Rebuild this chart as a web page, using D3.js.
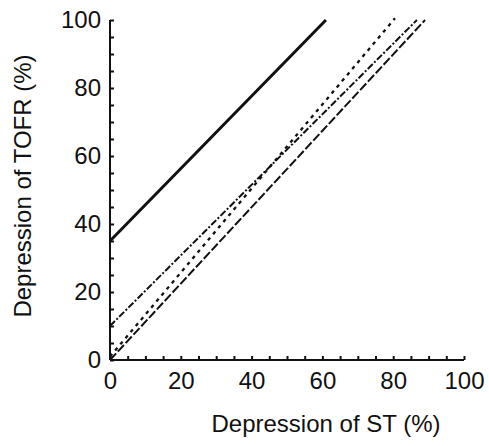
<!DOCTYPE html>
<html lang="en">
<head>
    <meta charset="UTF-8">
    <title>TOFR vs ST</title>
    <script src="https://cdn.jsdelivr.net/npm/d3@7"></script>
    <style>
        body { margin: 0; background: #fff; }
        #chart text { font-family: "Liberation Sans", Arial, sans-serif; fill: #111; }
        .axis path, .axis line { stroke: #111; stroke-width: 2px; }
        .axis text { font-size: 24px; }
        .series { fill: none; stroke: #111; }
    </style>
</head>
<body>
<div id="chart"></div>
<script>
    // line end points (ST %, TOFR %)
    let solidX = [0, 61];
    let solidY = [35, 100];
    let dotX = [0, 80.5];
    let dotY = [1, 100.5];
    let dashDotX = [0, 86.7];
    let dashDotY = [10, 100];
    let longDashX = [0, 89];
    let longDashY = [0, 100];

    let xTicks = [0, 5, 10, 15, 20, 25, 30, 35, 40, 45, 50, 55, 60, 65, 70, 75, 80, 85, 90, 95, 100];
    let yTicks = [0, 5, 10, 15, 20, 25, 30, 35, 40, 45, 50, 55, 60, 65, 70, 75, 80, 85, 90, 95, 100];
    let labelTicks = [0, 20, 40, 60, 80, 100];

    let draw = () => {
        let svg = d3.select("#chart").append("svg")
            .attr("width", 489)
            .attr("height", 446);

        // plot box
        let padding = { top: 20, left: 110, bottom: 86, right: 25 };
        let width = 489 - padding.left - padding.right;
        let height = 446 - padding.top - padding.bottom;

        let focus = svg.append("g")
            .attr("transform", "translate(" + padding.left + "," + padding.top + ")");

        let x = d3.scaleLinear().domain([0, 100]).range([0, width]);
        let y = d3.scaleLinear().domain([0, 100]).range([height, 0]);

        let fmt = d => labelTicks.indexOf(d) >= 0 ? d : "";

        /*axes - ticks point inward*/
        let xAxis = d3.axisBottom(x).tickValues(xTicks).tickSize(-4).tickPadding(12).tickFormat(fmt);
        let yAxis = d3.axisLeft(y).tickValues(yTicks).tickSize(-4).tickPadding(9).tickFormat(fmt);

        focus.append("g")
            .attr("class", "axis")
            .attr("transform", "translate(0," + height + ")")
            .call(xAxis)
            .call(g => g.select(".domain").attr("d", "M0,0H" + width));

        focus.append("g")
            .attr("class", "axis")
            .call(yAxis)
            .call(g => g.select(".domain").attr("d", "M0," + height + "V0"));

        /*series*/
        let line = d3.line()
            .x(d => x(d[0]))
            .y(d => y(d[1]));

        let series = [
            { xs: solidX, ys: solidY, dash: null, w: 3 },
            { xs: dotX, ys: dotY, dash: "3.5,4.5", w: 2.3 },
            { xs: dashDotX, ys: dashDotY, dash: "7,2,2,2", w: 2 },
            { xs: longDashX, ys: longDashY, dash: "9,2.5", w: 2 }
        ];

        series.forEach(s => {
            focus.append("path")
                .attr("class", "series")
                .attr("d", line(s.xs.map((v, i) => [v, s.ys[i]])))
                .style("stroke-width", s.w)
                .style("stroke-dasharray", s.dash);
        });

        /*axis titles*/
        svg.append("text")
            .attr("x", 326)
            .attr("y", 432)
            .attr("text-anchor", "middle")
            .style("font-size", "24px")
            .text("Depression of ST (%)");

        svg.append("text")
            .attr("transform", "translate(31,186) rotate(-90)")
            .attr("text-anchor", "middle")
            .style("font-size", "24px")
            .text("Depression of TOFR (%)");
    }

    draw();
</script>
</body>
</html>
